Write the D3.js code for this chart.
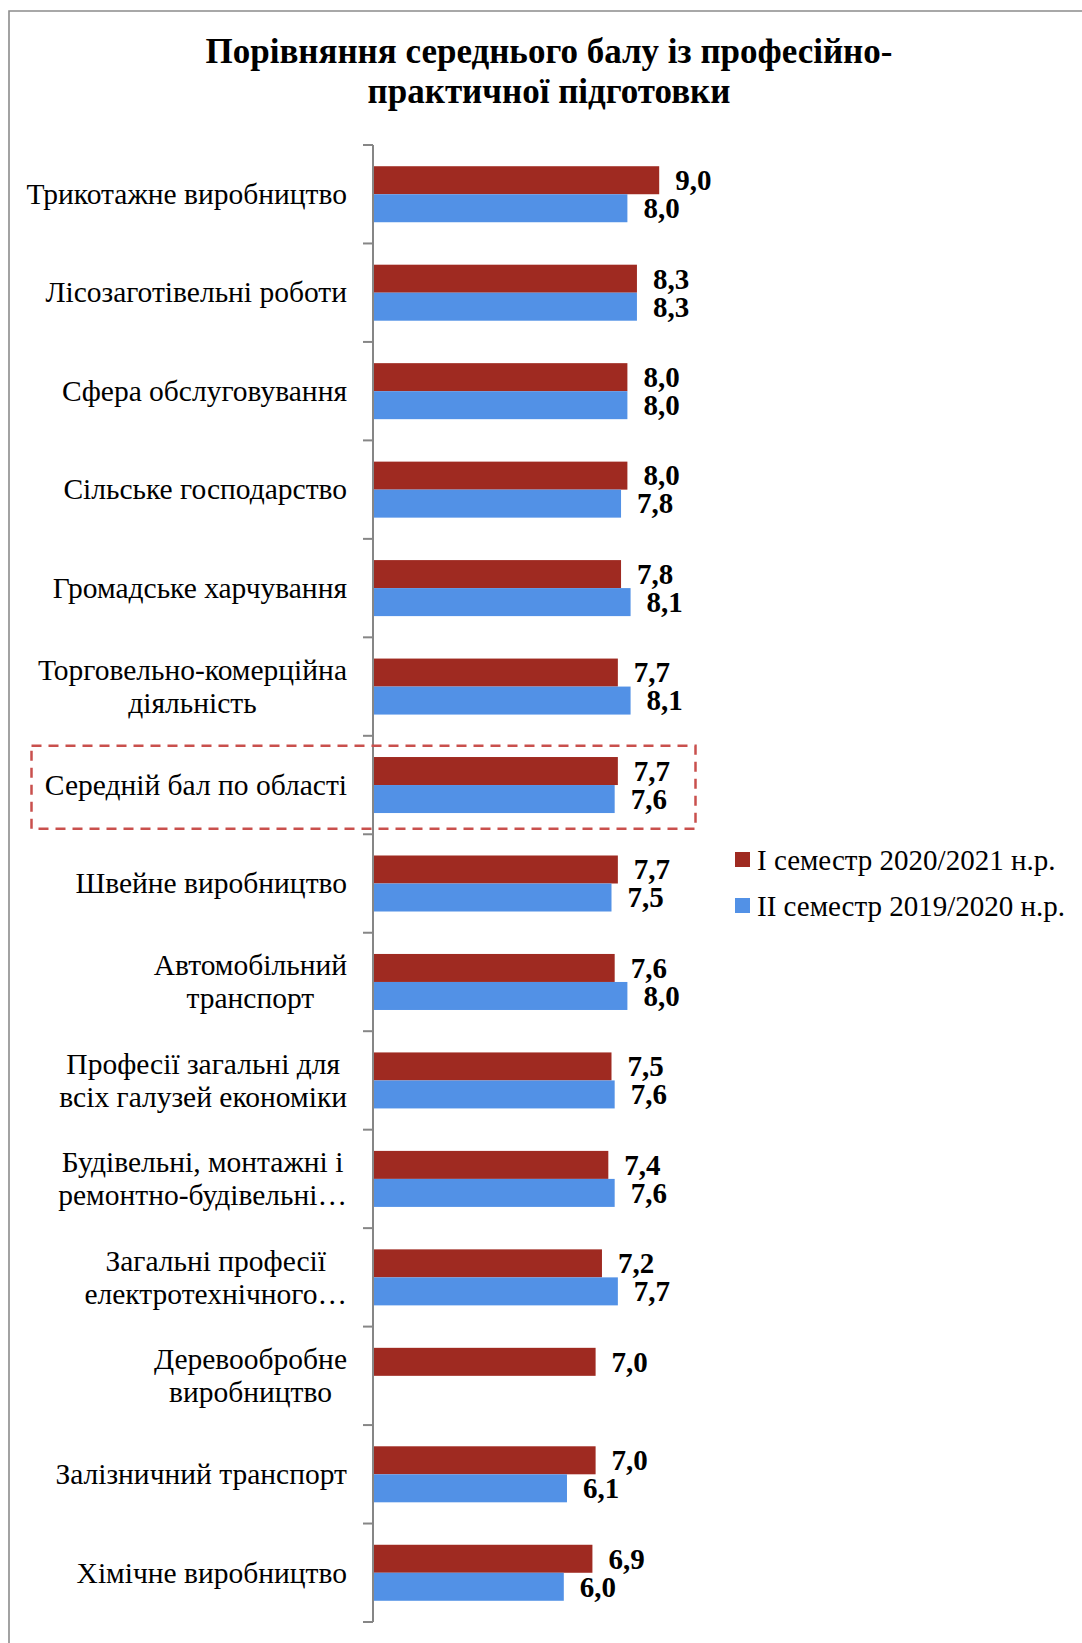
<!DOCTYPE html>
<html><head><meta charset="utf-8">
<script src="https://cdnjs.cloudflare.com/ajax/libs/d3/7.8.5/d3.min.js"></script>
<style>
html,body{margin:0;padding:0;background:#fff;}
svg{display:block;}
text{font-family:"Times New Roman","Liberation Serif",serif;}
</style></head>
<body>
<div id="chart"></div>
<script>
const titleLines = ["Порівняння середнього балу із професійно-", "практичної підготовки"];
const categories = [
  ["Трикотажне виробництво"],
  ["Лісозаготівельні роботи"],
  ["Сфера обслуговування"],
  ["Сільське господарство"],
  ["Громадське харчування"],
  ["Торговельно-комерційна", "діяльність"],
  ["Середній бал по області"],
  ["Швейне виробництво"],
  ["Автомобільний", "транспорт"],
  ["Професії загальні для", "всіх галузей економіки"],
  ["Будівельні, монтажні і", "ремонтно-будівельні…"],
  ["Загальні професії", "електротехнічного…"],
  ["Деревообробне", "виробництво"],
  ["Залізничний транспорт"],
  ["Хімічне виробництво"]
];
const seriesNames = ["I семестр 2020/2021 н.р.", "II семестр 2019/2020 н.р."];
const series1 = [9.0, 8.3, 8.0, 8.0, 7.8, 7.7, 7.7, 7.7, 7.6, 7.5, 7.4, 7.2, 7.0, 7.0, 6.9];
const series2 = [8.0, 8.3, 8.0, 7.8, 8.1, 8.1, 7.6, 7.5, 8.0, 7.6, 7.6, 7.7, null, 6.1, 6.0];
const highlightIndex = 6;

const W = 1082, H = 1643;
const colors = ["#9F2A21", "#5291E6"];
const svg = d3.select("#chart").append("svg").attr("width", W).attr("height", H);

// chart border
svg.append("path").attr("d", `M9,${H+5} L9,11 L${W+5},11`).attr("fill","none")
  .attr("stroke","#8c8c8c").attr("stroke-width",1.6);

// title
svg.append("g").selectAll("text").data(titleLines).join("text")
  .attr("x", 549).attr("y", (d,i)=>63 + i*40)
  .attr("text-anchor","middle").attr("font-size","35px").attr("font-weight","bold")
  .attr("fill","#000").text(d=>d);

const catKeys = categories.map((c,i)=>i);
const y = d3.scaleBand().domain(catKeys).range([145, 1622]).paddingInner(0).paddingOuter(0);
const ySub = d3.scaleBand().domain([0,1]).range([0, y.bandwidth()]).paddingInner(0).paddingOuter(0.758);
const x = d3.scaleLinear().domain([0, 10]).range([373, 691]);

// bars
const data = [];
categories.forEach((c,i)=>{
  [series1[i], series2[i]].forEach((v,s)=>{ if(v!=null) data.push({i, s, v}); });
});
svg.append("g").selectAll("rect").data(data).join("rect")
  .attr("x", x(0)).attr("y", d=>y(d.i)+ySub(d.s))
  .attr("width", d=>x(d.v)-x(0)).attr("height", ySub.bandwidth())
  .attr("fill", d=>colors[d.s]);

// value labels
const fmt = v => d3.format(".1f")(v).replace(".", ",");
svg.append("g").selectAll("text").data(data).join("text")
  .attr("x", d=>x(d.v)+16).attr("y", d=>y(d.i)+ySub(d.s)+ySub.bandwidth()/2)
  .attr("dy","0.34em").attr("font-size","29px").attr("font-weight","bold")
  .attr("fill","#000").text(d=>fmt(d.v));

// axis line and ticks
const axisG = svg.append("g");
axisG.append("line").attr("x1", x(0)).attr("x2", x(0)).attr("y1", y.range()[0]).attr("y2", y.range()[1])
  .attr("stroke","#868686").attr("stroke-width",2);
const tickPos = catKeys.map(k=>y(k)).concat([y.range()[1]]);
axisG.selectAll("line.tick").data(tickPos).join("line").attr("class","tick")
  .attr("x1", x(0)-10).attr("x2", x(0)).attr("y1", d=>d).attr("y2", d=>d)
  .attr("stroke","#868686").attr("stroke-width",2);

// category labels
const labelRight = 347, lineH = 33;
categories.forEach((lines, i)=>{
  const g = svg.append("g");
  const cy = y(i) + y.bandwidth()/2;
  const texts = g.selectAll("text").data(lines).join("text")
    .attr("font-size","29.5px").attr("fill","#000").text(d=>d);
  const widths = [];
  texts.each(function(){ widths.push(this.getComputedTextLength()); });
  const maxW = d3.max(widths);
  const centerX = labelRight - maxW/2;
  const n = lines.length;
  texts.attr("text-anchor","middle").attr("x", centerX)
    .attr("y", (d,j)=> cy + (j - (n-1)/2)*lineH)
    .attr("dy","0.33em");
});

// highlight box
svg.append("rect").attr("x", 31.5).attr("y", y(highlightIndex)+10)
  .attr("width", 664).attr("height", 83)
  .attr("fill","none").attr("stroke","#C9504D").attr("stroke-width",2.5)
  .attr("stroke-dasharray","10,7");

// legend
const leg = svg.append("g").selectAll("g").data(seriesNames).join("g")
  .attr("transform",(d,i)=>`translate(735,${852 + i*46})`);
leg.append("rect").attr("width",15).attr("height",15).attr("fill",(d,i)=>colors[i]);
leg.append("text").attr("x",22).attr("y",18).attr("font-size","29px").attr("fill","#000").text(d=>d);
</script>
</body></html>
